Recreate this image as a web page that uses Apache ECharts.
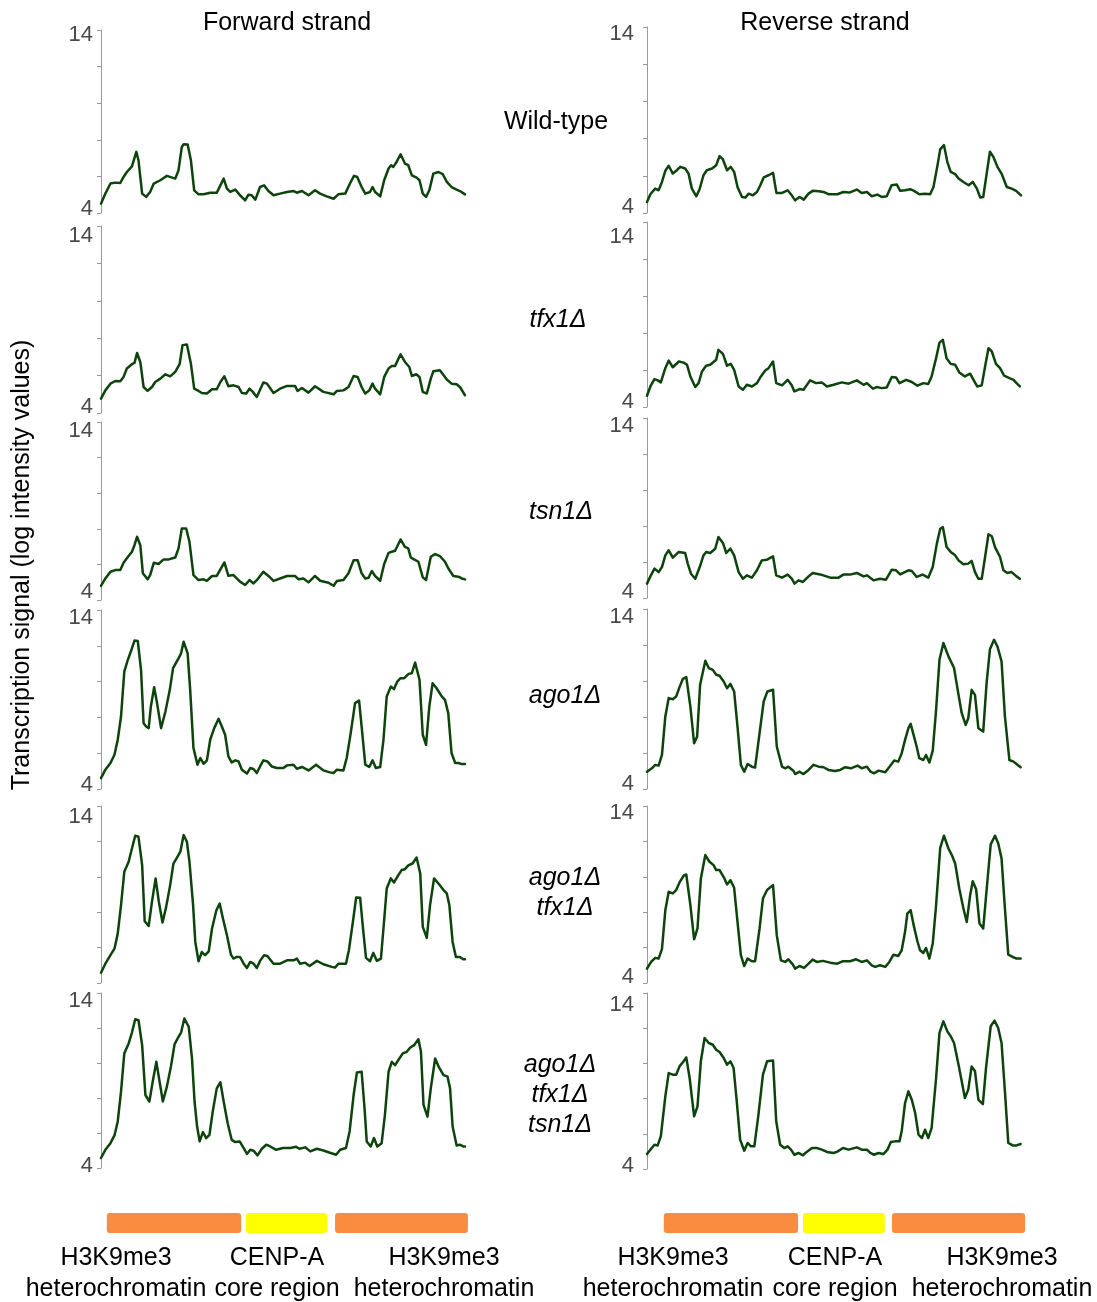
<!DOCTYPE html>
<html><head><meta charset="utf-8">
<script src="https://cdn.jsdelivr.net/npm/echarts@6/dist/echarts.min.js"></script>
<style>html,body{margin:0;padding:0;background:#fff}#c{width:1097px;height:1302px}</style>
</head><body><div id="c"></div>
<script>
// ---------------- DATA ----------------
const strandTitles = ['Forward strand', 'Reverse strand'];
const strainLabels = ['Wild-type', 'tfx1Δ', 'tsn1Δ', 'ago1Δ', 'ago1Δ\ntfx1Δ', 'ago1Δ\ntfx1Δ\ntsn1Δ'];
const yAxisTitle = 'Transcription signal (log intensity values)';
const yMin = 4, yMax = 14, yStep = 2;
const regionNames = ['H3K9me3\nheterochromatin', 'CENP-A\ncore region', 'H3K9me3\nheterochromatin'];
const regionKinds = ['heterochromatin', 'core', 'heterochromatin'];
const regionsFwd = [[1.6, 38.5], [39.8, 62.1], [64.3, 100.8]];
const regionsRev = [[4.5, 40.4], [41.7, 63.6], [65.5, 101.1]];

// [relative position along region (0-100), log signal]
const wildTypeFwd = [[0,4.51],[1.2,5.06],[2.6,5.61],[3.9,5.66],[5.3,5.64],[6.2,5.97],[7.1,6.24],[8.5,6.55],[9.7,7.34],[10.3,6.88],[11.3,5.06],[12.4,4.88],[13.5,5.15],[14.5,5.61],[16.3,5.79],[18.1,6.03],[20.4,5.88],[21.3,6.34],[22.2,7.61],[22.7,7.76],[23.8,7.74],[24.7,6.88],[25.6,5.24],[26.8,5.02],[28.2,5.02],[30.0,5.11],[31.8,5.11],[32.8,5.51],[33.7,5.88],[34.6,5.33],[35.5,5.15],[36.9,5.28],[38.2,4.97],[39.6,4.69],[40.5,5.0],[41.4,4.97],[42.4,4.73],[43.7,5.42],[44.8,5.51],[46.0,5.2],[47.4,4.97],[49.2,5.06],[51.1,5.15],[52.9,5.2],[53.8,5.11],[55.2,5.2],[57.0,4.97],[58.8,5.24],[60.2,5.06],[62.0,4.91],[63.9,4.78],[65.2,5.02],[67.1,5.06],[68.4,5.61],[69.5,6.03],[70.4,5.97],[71.6,5.42],[72.6,5.06],[73.9,5.15],[74.6,5.42],[75.3,5.15],[76.7,4.91],[77.8,5.79],[79.0,6.43],[79.7,6.61],[80.3,6.52],[81.2,6.79],[82.3,7.21],[83.5,6.7],[84.4,6.61],[85.4,6.06],[86.7,5.93],[87.5,5.79],[88.4,5.06],[89.3,4.88],[90.2,5.24],[91.3,6.15],[92.7,6.24],[93.9,6.12],[95.0,5.7],[96.3,5.42],[97.7,5.28],[98.6,5.2],[100,5.02]];
const tfx1Fwd = [[0,4.77],[1.2,5.21],[2.6,5.57],[3.9,5.71],[5.3,5.70],[6.2,5.93],[7.1,6.38],[8.5,6.61],[9.2,6.68],[9.9,7.21],[10.8,6.73],[11.7,5.39],[12.8,5.18],[14.0,5.39],[14.9,5.66],[16.3,5.84],[17.7,6.07],[19.0,5.96],[20.4,6.20],[21.6,6.61],[22.4,7.63],[23.6,7.66],[24.7,6.64],[25.6,5.30],[26.8,5.18],[27.7,5.07],[29.1,5.04],[30.5,5.27],[31.8,5.27],[32.8,5.66],[33.9,5.96],[35.0,5.43],[36.4,5.48],[37.8,5.39],[38.7,5.07],[39.9,5.04],[40.8,5.30],[41.7,5.13],[42.8,4.86],[44.6,5.63],[45.6,5.57],[47.4,5.07],[49.2,5.30],[51.1,5.45],[53.3,5.45],[54.0,5.18],[55.2,5.34],[57.0,5.09],[58.8,5.43],[61.1,5.13],[63.9,5.00],[64.8,5.18],[66.6,5.21],[68.0,5.39],[69.4,5.98],[70.5,5.93],[71.6,5.39],[72.6,5.04],[73.7,5.21],[74.6,5.57],[75.3,5.30],[76.7,5.00],[77.8,5.93],[79.0,6.38],[79.9,6.52],[80.8,6.52],[82.3,7.14],[83.5,6.73],[84.7,6.46],[85.4,5.98],[86.6,6.07],[87.5,5.93],[88.4,5.13],[89.5,5.04],[90.6,5.84],[91.3,6.23],[93.1,6.29],[95.0,5.79],[96.3,5.57],[97.7,5.54],[98.6,5.39],[100,4.95]];
const tsn1Fwd = [[0,4.79],[1.2,5.21],[2.6,5.59],[3.9,5.68],[5.3,5.68],[6.2,6.09],[7.1,6.34],[8.5,6.71],[9.2,7.08],[9.9,7.55],[10.8,7.08],[11.5,5.50],[12.8,5.16],[13.5,5.40],[14.5,6.09],[15.8,6.02],[17.2,6.28],[18.6,6.28],[20.4,6.39],[21.3,6.90],[22.2,8.02],[23.4,8.02],[24.3,7.27],[25.4,5.40],[26.8,5.12],[28.2,5.16],[29.1,5.08],[30.5,5.35],[31.8,5.35],[32.8,5.72],[33.9,6.11],[35.0,5.36],[36.4,5.40],[38.2,5.03],[39.6,4.84],[40.8,5.12],[41.9,4.93],[43.0,5.16],[44.6,5.59],[46.0,5.35],[47.4,5.07],[49.2,5.21],[51.1,5.35],[53.3,5.35],[54.3,5.16],[55.6,5.21],[57.0,4.99],[58.8,5.35],[60.2,5.08],[62.5,4.97],[63.9,4.80],[64.8,5.07],[66.6,5.12],[68.0,5.50],[69.4,6.24],[70.5,6.24],[71.6,5.50],[72.6,5.21],[73.5,5.25],[74.4,5.63],[75.3,5.35],[76.7,5.08],[77.8,6.02],[79.0,6.65],[79.9,6.71],[80.8,6.77],[82.3,7.40],[83.5,6.99],[84.4,6.90],[85.1,6.39],[86.0,6.28],[87.2,6.15],[88.4,5.27],[89.3,5.12],[90.6,6.43],[91.8,6.58],[93.1,6.47],[94.5,6.15],[95.4,5.78],[96.8,5.35],[98.2,5.31],[99.1,5.21],[100,5.16]];
const ago1Fwd = [[0,4.61],[1.2,5.08],[2.6,5.45],[3.7,5.91],[4.6,6.75],[5.5,8.05],[6.4,10.56],[7.3,11.17],[8.2,11.68],[9.2,12.29],[10.1,12.27],[11.0,10.65],[11.7,7.68],[12.4,7.49],[13.1,7.40],[13.7,8.61],[14.6,9.69],[15.4,8.80],[16.5,7.40],[17.7,8.33],[18.9,9.54],[19.8,10.75],[21.3,11.30],[22.0,11.58],[22.7,12.23],[23.8,11.58],[24.5,9.54],[25.4,6.29],[26.5,5.36],[27.3,5.73],[28.2,5.41],[29.1,5.60],[30.0,6.75],[31.1,7.40],[32.3,7.92],[33.2,7.49],[34.1,7.03],[35.0,5.82],[35.9,5.49],[36.9,5.60],[37.8,5.54],[38.7,5.08],[40.1,4.86],[41.0,5.17],[41.9,5.12],[42.8,4.89],[43.7,5.26],[44.6,5.60],[45.7,5.54],[46.9,5.26],[48.3,5.17],[50.1,5.17],[51.1,5.32],[52.9,5.36],[53.8,5.13],[55.2,5.23],[57.0,5.04],[59.1,5.36],[61.1,5.04],[62.9,4.93],[63.9,4.89],[64.8,5.08],[66.6,5.04],[67.5,5.73],[68.6,7.12],[69.8,8.80],[70.9,8.94],[71.6,7.49],[72.6,5.36],[73.7,5.23],[74.6,5.60],[75.5,5.17],[76.7,5.23],[77.6,6.75],[78.5,9.17],[79.6,9.72],[80.5,9.58],[81.4,10.00],[82.3,10.19],[83.3,10.19],[84.5,10.43],[85.4,10.47],[86.3,11.06],[87.5,10.10],[88.4,7.03],[89.3,6.47],[90.2,8.61],[91.1,9.91],[92.2,9.63],[93.6,9.17],[94.5,8.98],[95.4,8.24],[96.3,6.01],[97.3,5.45],[98.2,5.45],[99.1,5.39],[100,5.39]];
const ago1Tfx1Fwd = [[0,4.58],[1.2,5.09],[2.6,5.57],[3.7,5.94],[4.6,6.79],[5.5,8.40],[6.4,10.28],[7.6,10.85],[8.5,11.60],[9.4,12.32],[10.3,12.26],[11.3,10.66],[12.0,7.49],[13.1,7.23],[14.0,8.58],[15.0,9.91],[15.9,8.58],[16.9,7.42],[17.9,8.30],[19.0,9.53],[19.9,10.75],[21.0,11.13],[21.8,11.42],[22.7,12.36],[23.6,11.98],[24.3,10.85],[25.3,8.40],[25.9,6.32],[26.8,5.23],[27.7,5.75],[28.6,5.57],[29.6,5.79],[30.5,7.08],[31.7,8.11],[32.6,8.49],[33.5,7.64],[34.6,6.70],[35.7,5.60],[36.4,5.38],[37.3,5.47],[38.2,5.47],[39.2,5.09],[40.1,4.85],[41.0,5.19],[41.9,5.10],[42.8,4.85],[43.7,5.25],[44.8,5.57],[45.7,5.53],[47.4,5.09],[49.2,5.09],[51.1,5.28],[52.9,5.28],[53.8,5.38],[54.7,5.09],[56.1,5.15],[57.3,4.96],[59.3,5.25],[61.1,5.06],[63.4,4.91],[64.3,4.87],[65.2,5.09],[67.3,5.09],[68.1,5.85],[69.2,7.45],[70.1,8.83],[71.2,8.81],[71.9,7.26],[72.8,5.42],[73.9,5.23],[74.8,5.70],[75.8,5.25],[76.9,5.38],[77.6,7.08],[78.5,9.34],[79.6,9.91],[80.5,9.68],[81.4,10.00],[82.6,10.38],[83.5,10.43],[84.5,10.66],[85.6,10.75],[86.7,11.09],[87.7,10.19],[88.4,7.17],[89.5,6.55],[90.4,8.40],[91.5,9.91],[92.7,9.62],[94.1,9.25],[95.0,9.06],[95.7,8.40],[96.6,6.32],[97.5,5.47],[98.6,5.47],[99.5,5.34],[100,5.34]];
const ago1Tfx1Tsn1Fwd = [[0,4.57],[1.2,5.04],[2.6,5.42],[3.7,5.86],[4.6,6.66],[5.5,8.36],[6.4,10.55],[7.6,11.12],[8.5,11.74],[9.4,12.50],[10.3,12.44],[11.3,11.02],[12.2,8.17],[13.3,7.80],[14.2,8.93],[15.2,10.07],[16.1,8.93],[17.0,7.80],[18.1,8.65],[19.2,9.79],[20.2,11.06],[21.3,11.50],[22.0,11.74],[22.9,12.54],[24.1,12.07],[25.0,10.26],[25.7,7.80],[26.4,6.37],[27.1,5.52],[28.0,6.05],[28.9,5.71],[29.8,5.90],[30.7,7.23],[31.8,8.55],[32.8,8.90],[33.7,7.80],[34.8,6.56],[35.9,5.61],[36.9,5.48],[38.1,5.52],[39.2,5.14],[40.1,4.80],[41.0,5.04],[41.9,4.99],[43.0,4.72],[44.2,5.10],[45.4,5.33],[46.5,5.23],[48.1,5.04],[50.0,5.14],[52.0,5.14],[53.6,5.21],[54.5,5.10],[56.1,5.18],[57.5,4.95],[59.3,5.10],[61.1,5.00],[62.9,4.87],[64.6,4.76],[65.7,5.04],[67.3,5.14],[68.3,6.09],[69.4,8.17],[70.3,9.46],[71.6,9.50],[72.4,7.42],[73.0,5.52],[74.1,5.23],[75.0,5.71],[75.9,5.23],[77.1,5.42],[78.0,7.04],[79.0,9.50],[79.9,10.07],[80.8,9.88],[81.7,10.17],[82.9,10.55],[84.0,10.64],[84.9,10.87],[86.0,11.02],[87.2,11.36],[87.9,10.64],[88.6,7.61],[89.7,6.94],[90.6,8.55],[91.8,10.26],[92.9,9.73],[94.1,9.31],[95.2,9.22],[95.9,8.55],[96.6,6.37],[97.7,5.29],[98.6,5.33],[99.5,5.23],[100,5.23]];

const wildTypeRev = [[0,4.59],[0.9,5.01],[2.2,5.31],[3.1,5.22],[4.0,5.67],[4.9,6.27],[5.8,6.54],[6.9,6.12],[8.0,6.30],[8.9,6.48],[10.2,6.39],[11.1,6.12],[12.0,5.31],[13.2,4.90],[14.1,5.31],[15.1,6.03],[16.0,6.30],[17.4,6.39],[18.5,6.57],[19.4,7.06],[20.3,6.88],[21.4,6.30],[22.4,6.48],[23.3,6.21],[24.2,5.40],[25.4,4.86],[26.3,4.83],[27.2,5.04],[28.3,4.95],[29.4,5.13],[30.3,5.49],[31.2,5.91],[32.5,6.03],[33.7,6.16],[34.6,5.08],[36.1,5.08],[37.6,5.22],[38.7,4.95],[39.6,4.68],[40.8,4.86],[41.9,4.72],[43.2,5.04],[44.3,5.19],[45.9,5.17],[47.2,5.13],[48.5,5.01],[50.9,5.01],[52.5,5.13],[54.1,5.10],[56.1,5.26],[57.4,5.08],[58.8,5.13],[60.1,4.90],[61.6,4.99],[62.8,4.86],[64.1,4.90],[65.4,5.49],[66.8,5.53],[67.7,5.19],[69.0,5.22],[70.4,5.28],[71.4,5.19],[72.8,5.01],[74.4,5.04],[75.7,5.01],[76.6,5.40],[77.6,6.48],[78.4,7.42],[79.4,7.65],[80.3,6.75],[81.2,6.21],[82.4,6.09],[83.3,5.85],[84.6,5.67],[86.0,5.49],[87.1,5.67],[88.2,5.31],[89.1,4.83],[89.9,4.86],[90.8,6.09],[91.7,7.29],[92.6,7.02],[93.7,6.48],[94.8,6.12],[96.2,5.40],[97.5,5.31],[98.7,5.19],[100,4.95]];
const tfx1Rev = [[0,4.61],[0.9,5.11],[2.0,5.51],[2.9,5.44],[3.7,5.33],[4.9,6.10],[5.8,6.51],[6.9,6.15],[8.5,6.46],[9.8,6.40],[10.7,6.28],[11.6,5.65],[12.9,5.08],[13.8,5.29],[14.7,5.92],[15.8,6.23],[16.9,6.28],[18.5,6.55],[19.1,7.09],[20.3,6.87],[21.4,6.23],[22.4,6.33],[23.3,6.01],[24.5,5.11],[25.65,4.93],[26.7,5.20],[28.05,5.11],[29.4,5.29],[30.45,5.65],[31.6,5.97],[32.5,6.10],[33.7,6.46],[34.55,5.29],[36.1,5.17],[37.6,5.47],[38.7,5.17],[39.4,4.84],[40.8,4.97],[41.85,4.93],[43.6,5.44],[45.2,5.29],[46.75,5.33],[48.1,5.11],[49.9,5.20],[52.1,5.33],[53.9,5.26],[56.1,5.44],[57.9,5.20],[58.8,5.29],[60.4,4.99],[61.4,5.08],[62.8,5.02],[64.1,5.06],[65.45,5.62],[66.6,5.60],[67.5,5.29],[69.3,5.47],[70.8,5.35],[72.3,5.15],[73.9,5.29],[75.2,5.24],[76.1,5.65],[77.3,6.64],[78.2,7.48],[79.1,7.63],[80.1,6.64],[81.2,6.33],[82.4,6.28],[83.5,5.87],[85.0,5.65],[86.4,5.80],[87.3,5.47],[88.3,5.11],[89.5,5.17],[90.4,6.19],[91.3,7.18],[92.2,7.00],[93.3,6.33],[94.4,6.10],[95.5,5.69],[96.9,5.56],[98.0,5.47],[98.8,5.29],[99.7,5.11]];
const tsn1Rev = [[0,4.80],[0.9,5.20],[2.0,5.63],[3.1,5.44],[4.0,5.72],[4.9,6.37],[5.8,6.65],[6.9,6.24],[8.5,6.56],[10.2,6.50],[10.9,5.91],[11.75,5.35],[12.9,5.07],[14.1,5.72],[15.1,6.37],[15.85,6.56],[16.9,6.50],[18.25,6.74],[19.1,7.39],[20.3,7.06],[21.2,6.50],[22.3,6.74],[23.3,6.37],[24.5,5.44],[25.65,5.07],[26.7,5.26],[28.05,5.13],[29.4,5.54],[30.7,6.09],[32.1,6.13],[33.7,6.31],[34.55,5.26],[36.1,5.13],[37.6,5.30],[38.7,5.07],[39.45,4.80],[40.5,4.98],[41.7,4.89],[43.2,5.20],[44.3,5.39],[46.3,5.31],[49.0,5.13],[51.2,5.13],[52.5,5.30],[54.3,5.30],[56.1,5.39],[57.9,5.20],[58.8,5.26],[60.55,4.98],[62.3,5.07],[63.9,5.02],[65.45,5.57],[66.6,5.54],[67.7,5.31],[69.9,5.54],[70.8,5.50],[72.1,5.17],[73.7,5.30],[75.2,5.13],[76.4,5.72],[77.5,7.02],[78.4,7.85],[79.1,7.94],[80.1,6.83],[81.2,6.56],[82.4,6.37],[83.3,6.09],[84.6,5.87],[85.9,5.91],[86.8,6.06],[87.7,5.44],[88.6,5.07],[89.5,5.07],[90.4,6.28],[91.3,7.54],[92.2,7.43],[93.05,6.83],[94.4,6.28],[95.3,5.54],[96.35,5.39],[97.5,5.44],[98.8,5.20],[99.7,5.07]];
const ago1Rev = [[0,4.96],[1.3,5.15],[2.2,5.34],[3.1,5.30],[4.0,5.89],[4.9,8.03],[5.8,9.05],[6.9,8.99],[7.8,9.14],[8.7,9.66],[9.6,10.12],[10.5,10.22],[11.6,8.58],[12.6,6.54],[13.4,6.91],[14.2,9.79],[15.6,11.12],[16.5,10.72],[17.6,10.62],[18.5,10.35],[19.4,10.29],[20.5,9.97],[21.4,9.60],[22.3,9.84],[23.3,9.42],[24.2,7.47],[25.1,5.34],[26.0,4.96],[26.9,5.39],[28.05,5.24],[28.9,5.19],[30.1,7.10],[31.2,8.86],[32.2,9.42],[33.7,9.51],[34.7,6.36],[36.1,5.24],[36.95,5.15],[37.8,5.24],[39.2,5.00],[39.6,4.83],[40.8,4.96],[41.85,4.83],[43.2,5.06],[44.5,5.34],[45.9,5.24],[47.2,5.21],[48.5,5.06],[50.3,5.00],[51.65,5.06],[53.0,5.21],[54.5,5.15],[56.3,5.30],[57.4,5.15],[58.8,5.24],[59.8,4.96],[60.7,4.87],[61.9,5.02],[63.7,4.93],[65.0,5.28],[66.1,5.58],[67.2,5.52],[68.1,5.99],[69.0,6.73],[69.9,7.38],[70.5,7.62],[71.4,6.91],[72.1,6.36],[72.8,5.71],[73.9,5.61],[74.6,5.89],[75.5,5.47],[76.4,6.13],[77.3,8.40],[78.2,11.18],[79.25,12.11],[80.6,11.37],[82.1,10.72],[83.3,9.23],[84.15,8.21],[85.2,7.56],[85.9,7.93],[86.8,9.51],[87.7,9.23],[88.6,7.38],[89.9,7.19],[90.8,9.88],[91.7,11.77],[92.8,12.29],[93.7,11.92],[94.8,11.09],[95.7,8.03],[96.9,5.61],[98.0,5.52],[98.8,5.39],[99.9,5.21]];
const ago1Tfx1Rev = [[0,4.81],[1.1,5.19],[2.2,5.42],[3.1,5.38],[4.0,5.91],[4.9,8.11],[5.8,9.15],[6.9,9.06],[7.8,9.25],[8.7,9.68],[9.8,10.06],[10.5,10.13],[11.6,8.40],[12.6,6.47],[13.5,7.08],[14.4,9.91],[15.6,11.23],[16.7,10.85],[17.8,10.66],[18.5,10.38],[19.4,10.38],[20.7,9.91],[21.4,9.57],[22.3,9.81],[23.3,9.38],[24.2,7.45],[25.1,5.57],[26.0,4.96],[26.9,5.38],[28.05,5.23],[28.9,5.23],[30.1,7.08],[31.0,8.77],[32.1,9.25],[33.7,9.53],[34.7,6.70],[35.8,5.28],[36.95,5.19],[37.8,5.34],[39.0,5.04],[39.6,4.81],[40.8,4.96],[42.0,4.85],[43.2,5.09],[44.3,5.32],[45.4,5.19],[47.0,5.25],[49.0,5.15],[50.9,5.09],[52.4,5.23],[54.3,5.23],[55.9,5.34],[57.4,5.19],[58.8,5.28],[60.1,5.00],[61.0,4.91],[62.3,5.00],[63.7,4.91],[64.8,5.19],[65.9,5.60],[67.2,5.53],[68.1,5.85],[69.0,6.89],[69.6,7.92],[70.5,8.11],[71.4,7.17],[72.3,6.36],[73.0,5.85],[73.9,5.70],[74.6,5.98],[75.5,5.38],[76.4,6.23],[77.3,8.40],[78.4,11.64],[79.4,12.32],[80.6,11.60],[81.5,11.23],[82.4,10.75],[83.5,9.34],[84.6,8.21],[85.5,7.45],[86.4,8.96],[87.1,9.75],[88.0,9.30],[88.9,7.36],[89.9,7.08],[91.0,9.72],[91.9,11.83],[93.05,12.32],[93.9,11.89],[94.8,11.04],[95.7,8.21],[96.6,5.60],[97.8,5.47],[98.8,5.38],[99.9,5.38]];
const ago1Tfx1Tsn1Rev = [[0,4.85],[0.9,5.10],[2.0,5.38],[2.85,5.34],[3.7,5.86],[4.9,8.13],[5.8,9.45],[6.9,9.36],[7.8,9.36],[8.7,9.83],[9.8,10.12],[10.5,10.34],[11.4,9.17],[12.6,6.99],[13.5,7.56],[14.4,10.12],[15.4,11.44],[16.5,11.16],[17.6,11.06],[18.5,10.78],[19.4,10.65],[20.5,10.31],[21.4,9.93],[22.3,10.12],[23.15,9.74],[24.0,7.84],[24.9,5.67],[26.0,5.04],[26.9,5.48],[27.8,5.29],[28.7,5.29],[29.8,7.09],[31.0,9.36],[32.1,10.12],[33.7,10.16],[34.55,6.71],[35.6,5.38],[36.7,5.19],[37.6,5.29],[38.5,5.10],[39.4,4.81],[40.5,4.91],[41.7,4.78],[42.7,4.97],[44.1,5.19],[45.4,5.19],[46.75,5.10],[48.1,4.97],[49.9,4.91],[50.9,4.99],[52.4,5.19],[53.9,5.10],[56.1,5.23],[57.4,5.10],[58.8,5.10],[59.7,4.91],[60.7,4.81],[61.9,4.91],[63.2,4.85],[64.3,5.10],[65.2,5.53],[66.3,5.57],[67.5,5.57],[68.1,6.14],[69.0,7.75],[69.9,8.41],[70.8,7.94],[71.7,7.18],[72.6,5.95],[73.5,5.76],[74.35,6.23],[75.2,5.76],[76.1,6.33],[77.3,9.17],[78.2,11.73],[79.25,12.39],[80.3,11.82],[81.2,11.54],[82.1,11.16],[83.3,9.93],[84.15,8.98],[85.0,8.03],[85.9,8.51],[86.8,9.83],[87.7,9.55],[88.6,7.94],[89.8,7.69],[90.65,9.74],[91.9,12.11],[92.9,12.43],[93.9,12.01],[94.8,11.16],[95.7,8.41],[96.6,5.48],[97.8,5.34],[98.8,5.34],[99.9,5.42]];

const seriesByRow = [
  [wildTypeFwd, wildTypeRev],
  [tfx1Fwd, tfx1Rev],
  [tsn1Fwd, tsn1Rev],
  [ago1Fwd, ago1Rev],
  [ago1Tfx1Fwd, ago1Tfx1Rev],
  [ago1Tfx1Tsn1Fwd, ago1Tfx1Tsn1Rev]
];

// ---------------- LAYOUT / STYLE ----------------
const FONT = '"Liberation Sans", Arial, Helvetica, sans-serif';
const TXT = 25;
const TICK_FS = 22;
const colLeft = [101, 647];
const colWidth = [364, 374];
const rowTop = [[30, 27], [226, 222], [422, 418], [610, 609], [806, 806], [993, 993]];
const rowBottom = [[213, 213], [413, 407], [600, 598], [789, 789], [983, 983], [1168, 1169]];
// vertical nudge of the "14" and "4" labels relative to their ticks
const topLabelShift = [[5, 7], [10, 15], [9, 8], [8, 8], [11, 7], [8, 12]];
const botLabelShift = [[4, 6], [6, 5], [8, 6], [4, 5], [null, 6], [2, 3]];
const labelMargin = [8, 13];
const lineColor = '#0c440c';
const axisColor = '#9a9a9a';
const tickLabelColor = '#4a4a4a';
const regionColors = { heterochromatin: '#FA8C40', core: '#FFFF00' };

const grids = [], xAxes = [], yAxes = [], series = [];
for (let r = 0; r < 6; r++) {
  for (let c = 0; c < 2; c++) {
    const idx = grids.length;
    grids.push({ left: colLeft[c], width: colWidth[c], top: rowTop[r][c], height: rowBottom[r][c] - rowTop[r][c], outerBoundsMode: 'none' });
    xAxes.push({ gridIndex: idx, type: 'value', min: 0, max: 100, show: false });
    const ts = topLabelShift[r][c], bs = botLabelShift[r][c];
    yAxes.push({
      gridIndex: idx, type: 'value', min: yMin, max: yMax, interval: yStep,
      splitLine: { show: false },
      axisLine: { show: true, lineStyle: { color: axisColor, width: 1 } },
      axisTick: { show: true, length: 4, lineStyle: { color: axisColor, width: 1 } },
      axisLabel: {
        margin: labelMargin[c], color: tickLabelColor, fontSize: TICK_FS, fontFamily: FONT,
        formatter: function (v) {
          if (v === yMax) return '{t|' + v + '}';
          if (v === yMin && bs !== null) return '{b|' + v + '}';
          return '';
        },
        rich: {
          t: { fontSize: TICK_FS, fontFamily: FONT, color: tickLabelColor, padding: [2 * ts, 0, 0, 0] },
          b: { fontSize: TICK_FS, fontFamily: FONT, color: tickLabelColor, padding: [0, 0, 2 * (bs || 0), 0] }
        }
      }
    });
    series.push({
      type: 'line', xAxisIndex: idx, yAxisIndex: idx,
      data: seriesByRow[r][c], showSymbol: false, symbol: 'none',
      lineStyle: { color: lineColor, width: 2.5, join: 'round', cap: 'round' }, animation: false, silent: true
    });
  }
}

// region bars under each column
const regionSets = [regionsFwd, regionsRev];
for (let c = 0; c < 2; c++) {
  const idx = grids.length;
  grids.push({ left: colLeft[c], width: colWidth[c], top: 1213, height: 20, outerBoundsMode: 'none' });
  xAxes.push({ gridIndex: idx, type: 'value', min: 0, max: 100, show: false });
  yAxes.push({ gridIndex: idx, type: 'category', data: ['region'], show: false });
  series.push({
    type: 'custom', xAxisIndex: idx, yAxisIndex: idx, clip: false, animation: false, silent: true,
    encode: { x: [0, 1], y: 2 },
    data: regionSets[c].map((reg, i) => ({ value: [reg[0], reg[1], 0], itemStyle: { color: regionColors[regionKinds[i]] } })),
    renderItem: function (params, api) {
      const s = api.coord([api.value(0), 0]);
      const e = api.coord([api.value(1), 0]);
      const h = api.size([0, 1])[1];
      return { type: 'rect', shape: { x: s[0], y: s[1] - h / 2, width: e[0] - s[0], height: h, r: 3 }, style: { fill: api.visual('color') } };
    }
  });
}

// text annotations
const graphics = [];
const titleX = [287, 825];
strandTitles.forEach((t, i) => graphics.push({ type: 'text', x: titleX[i], y: 23, style: { text: t, font: TXT + 'px ' + FONT, fill: '#000', align: 'center', verticalAlign: 'middle' } }));
const strainX = [556, 558, 561, 565, 565, 560];
const strainY = [122, 320, 512, 696, 893, 1095];
strainLabels.forEach((t, i) => graphics.push({ type: 'text', x: strainX[i], y: strainY[i], style: { text: t, font: (i === 0 ? 'normal ' : 'italic ') + TXT + 'px ' + FONT, fill: '#000', align: 'center', verticalAlign: 'middle', lineHeight: 30 } }));
graphics.push({ type: 'text', x: 22, y: 565, rotation: Math.PI / 2, style: { text: yAxisTitle, font: TXT + 'px ' + FONT, fill: '#000', align: 'center', verticalAlign: 'middle' } });
const regionLabelX = [[116, 277, 444], [673, 835, 1002]];
for (let c = 0; c < 2; c++) {
  regionNames.forEach((t, i) => graphics.push({ type: 'text', x: regionLabelX[c][i], y: 1274, style: { text: t, font: TXT + 'px ' + FONT, fill: '#000', align: 'center', verticalAlign: 'middle', lineHeight: 31 } }));
}

const chart = echarts.init(document.getElementById('c'), null, { renderer: 'canvas' });
chart.setOption({
  animation: false,
  backgroundColor: '#ffffff',
  grid: grids, xAxis: xAxes, yAxis: yAxes, series: series,
  graphic: graphics
});
</script></body></html>
